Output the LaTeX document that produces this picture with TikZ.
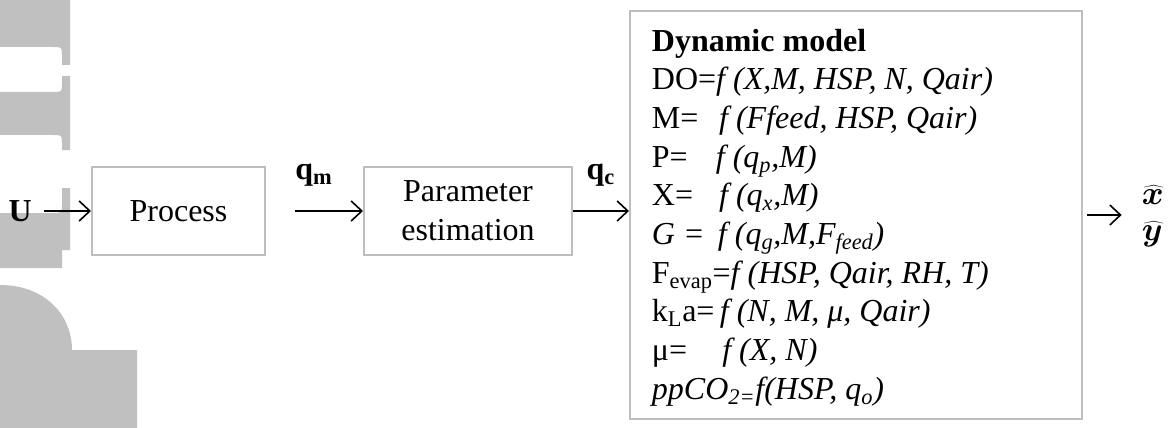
\documentclass[tikz,border=0pt]{standalone}
\usepackage{fontspec}
\setmainfont{Liberation Serif}
\usetikzlibrary{positioning}
\usetikzlibrary{arrows.meta}
\definecolor{boxgray}{RGB}{190,190,190}
\definecolor{wmgray}{RGB}{192,192,192}

\begin{document}
\begin{tikzpicture}[x=0.75pt, y=-0.75pt,
                    every node/.append style={font=\fontsize{24}{29}\selectfont},
                    box/.style={rectangle, draw=boxgray, line width=1.5pt, minimum height=66pt, align=center},
                    lbl/.style={inner sep=0pt},
                    hatlbl/.style={lbl, font=\fontsize{24}{29}\selectfont\boldmath},
                    arr/.style={-{Straight Barb[length=8pt, width=15pt]}, line width=1.2pt},
                    wmark/.style={fill=wmgray}]
    \useasboundingbox (0,0) rectangle (1168,428);

    % Watermark letters cut by the left edge
    \fill [wmark] (0,0) -- (70,0) -- (70,65) -- (62,65) -- (62,56) .. controls (62,47) .. (53,47) -- (0,47) -- cycle;
    \fill [wmark] (0,92) -- (53,92) .. controls (62,92) .. (62,83) -- (62,76) -- (70,76) -- (70,150) -- (62,150) -- (62,144) .. controls (62,135) .. (53,135) -- (0,135) -- cycle;
    \fill [wmark] (0,213) -- (53,213) .. controls (62,213) .. (62,204) -- (62,188) -- (70,188) -- (70,250) -- (62,250) -- (62,268) -- (0,268) -- cycle;
    \fill [wmark] (0,285) .. controls (45,285) and (72,315) .. (72,350) -- (137,350) -- (137,428) -- (0,428) -- cycle;

    % Blocks
    \node [box, minimum width=129.75pt] (process) at (178.5,211) {Process};
    \node [box, minimum width=156pt, right=72.75pt of process] (estim) {Parameter\\estimation};
    \node [box, minimum width=339pt, minimum height=306pt, right=42pt of estim, yshift=-3pt] (model) {};
    \node [lbl, anchor=north west, align=left] (eqs) at ([xshift=17pt, yshift=-14pt]model.north west) {%
        \textbf{Dynamic model}\\
        DO=\textit{f (X,M, HSP, N, Qair)}\\
        \makebox[2.1em][l]{M=}\textit{f (Ffeed, HSP, Qair)}\\
        \makebox[2.0em][l]{P=}\textit{f (q\textsubscript{p},M)}\\
        \makebox[2.1em][l]{X=}\textit{f (q\textsubscript{x},M)}\\
        \textit{G = \,f (q\textsubscript{g},M,F\textsubscript{feed})}\\
        F\textsubscript{evap}=\textit{f (HSP, Qair, RH, T)}\\
        k\textsubscript{L}a=\,\textit{f (N, M, μ, Qair)}\\
        \makebox[2.2em][l]{μ=}\textit{f (X, N)}\\
        \textit{ppCO\textsubscript{2=}f(HSP, q\textsubscript{o})}};

    % Inputs and outputs
    \node [lbl, inner xsep=9pt, left=35.25pt of process] (u) {\textbf{U}};
    \coordinate [right=21.75pt of process] (pm);
    \node [lbl, above right=18pt and 0pt of pm] (qm) {\textbf{q\textsubscript{m}}};
    \node [lbl, above right=18pt and 10pt of estim.east] (qc) {\textbf{q\textsubscript{c}}};
    \coordinate [right=3pt of model] (mo);
    \coordinate [right=29pt of model] (me);
    \node [hatlbl, above right=8pt and 15pt of me] (xhat) {$\widehat{x}$};
    \node [hatlbl, below right=5pt and 15pt of me] (yhat) {$\widehat{y}$};

    % Draw the arrows
    \draw [arr] (u)     -- (process);
    \draw [arr] (pm)    -- (estim);
    \draw [arr] (estim) -- (estim.east-|model.west);
    \draw [arr] (mo)    -- (me);
\end{tikzpicture}
\end{document}
